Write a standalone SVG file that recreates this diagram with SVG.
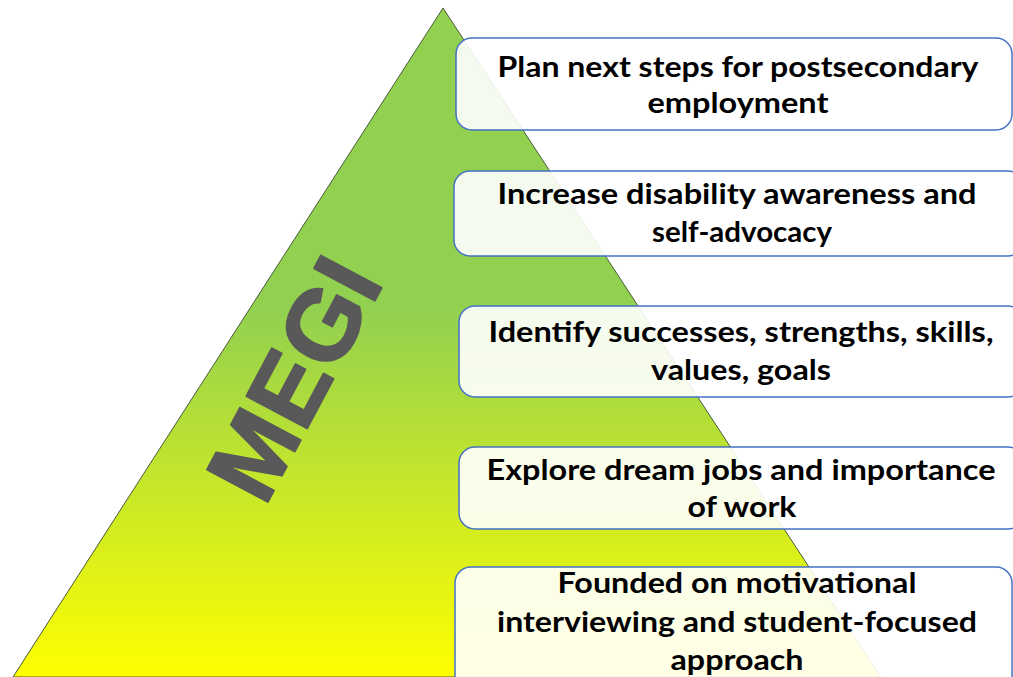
<svg xmlns="http://www.w3.org/2000/svg" width="1013" height="677" viewBox="0 0 1013 677">
  <defs>
    <linearGradient id="pyr" gradientUnits="userSpaceOnUse" x1="0" y1="8" x2="0" y2="677">
      <stop offset="0" stop-color="#92D050"/>
      <stop offset="0.45" stop-color="#92D050"/>
      <stop offset="1" stop-color="#FFFF00"/>
    </linearGradient>
    <style>
      .box { fill: #ffffff; fill-opacity: 0.9; stroke: #4472C4; stroke-width: 1.5; }
      .lbl { font-family: Lato, "Liberation Sans", sans-serif; font-weight: bold; font-size: 29px; fill: #000000; text-anchor: middle; }
      .megi { font-family: "Liberation Sans", Arial, sans-serif; font-weight: bold; font-size: 100px; fill: #595959; stroke: #595959; stroke-width: 2; stroke-linejoin: round; text-anchor: middle; }
    </style>
  </defs>
  <rect width="1013" height="677" fill="#ffffff"/>
  <g id="pyramid">
    <polygon points="443,8 13,677 881,677" fill="url(#pyr)" stroke="#4a5a3a" stroke-width="1"/>
    <text class="megi" transform="translate(293,378) rotate(-62)" x="0" y="36">MEGI</text>
  </g>
  <g id="connectors"/>
  <g id="node1">
    <rect class="box" x="456" y="38" width="556" height="92" rx="16"/>
    <text class="lbl" x="738" y="77" textLength="481" lengthAdjust="spacingAndGlyphs">Plan next steps for postsecondary</text>
    <text class="lbl" x="738" y="113" textLength="181" lengthAdjust="spacingAndGlyphs">employment</text>
  </g>
  <g id="node2">
    <rect class="box" x="454" y="171" width="570" height="85" rx="16"/>
    <text class="lbl" x="737" y="204" textLength="479" lengthAdjust="spacingAndGlyphs">Increase disability awareness and</text>
    <text class="lbl" x="742" y="242" textLength="180" lengthAdjust="spacingAndGlyphs">self-advocacy</text>
  </g>
  <g id="node3">
    <rect class="box" x="459" y="306" width="565" height="91" rx="16"/>
    <text class="lbl" x="741" y="342" textLength="505" lengthAdjust="spacingAndGlyphs">Identify successes, strengths, skills,</text>
    <text class="lbl" x="741" y="380" textLength="180" lengthAdjust="spacingAndGlyphs">values, goals</text>
  </g>
  <g id="node4">
    <rect class="box" x="459" y="447" width="565" height="82" rx="16"/>
    <text class="lbl" x="741" y="480" textLength="509" lengthAdjust="spacingAndGlyphs">Explore dream jobs and importance</text>
    <text class="lbl" x="742" y="517" textLength="109" lengthAdjust="spacingAndGlyphs">of work</text>
  </g>
  <g id="node5">
    <rect class="box" x="455" y="567" width="557" height="140" rx="16"/>
    <text class="lbl" x="737" y="593" textLength="359" lengthAdjust="spacingAndGlyphs">Founded on motivational</text>
    <text class="lbl" x="737" y="632" textLength="480" lengthAdjust="spacingAndGlyphs">interviewing and student-focused</text>
    <text class="lbl" x="737" y="670" textLength="133" lengthAdjust="spacingAndGlyphs">approach</text>
  </g>
</svg>
